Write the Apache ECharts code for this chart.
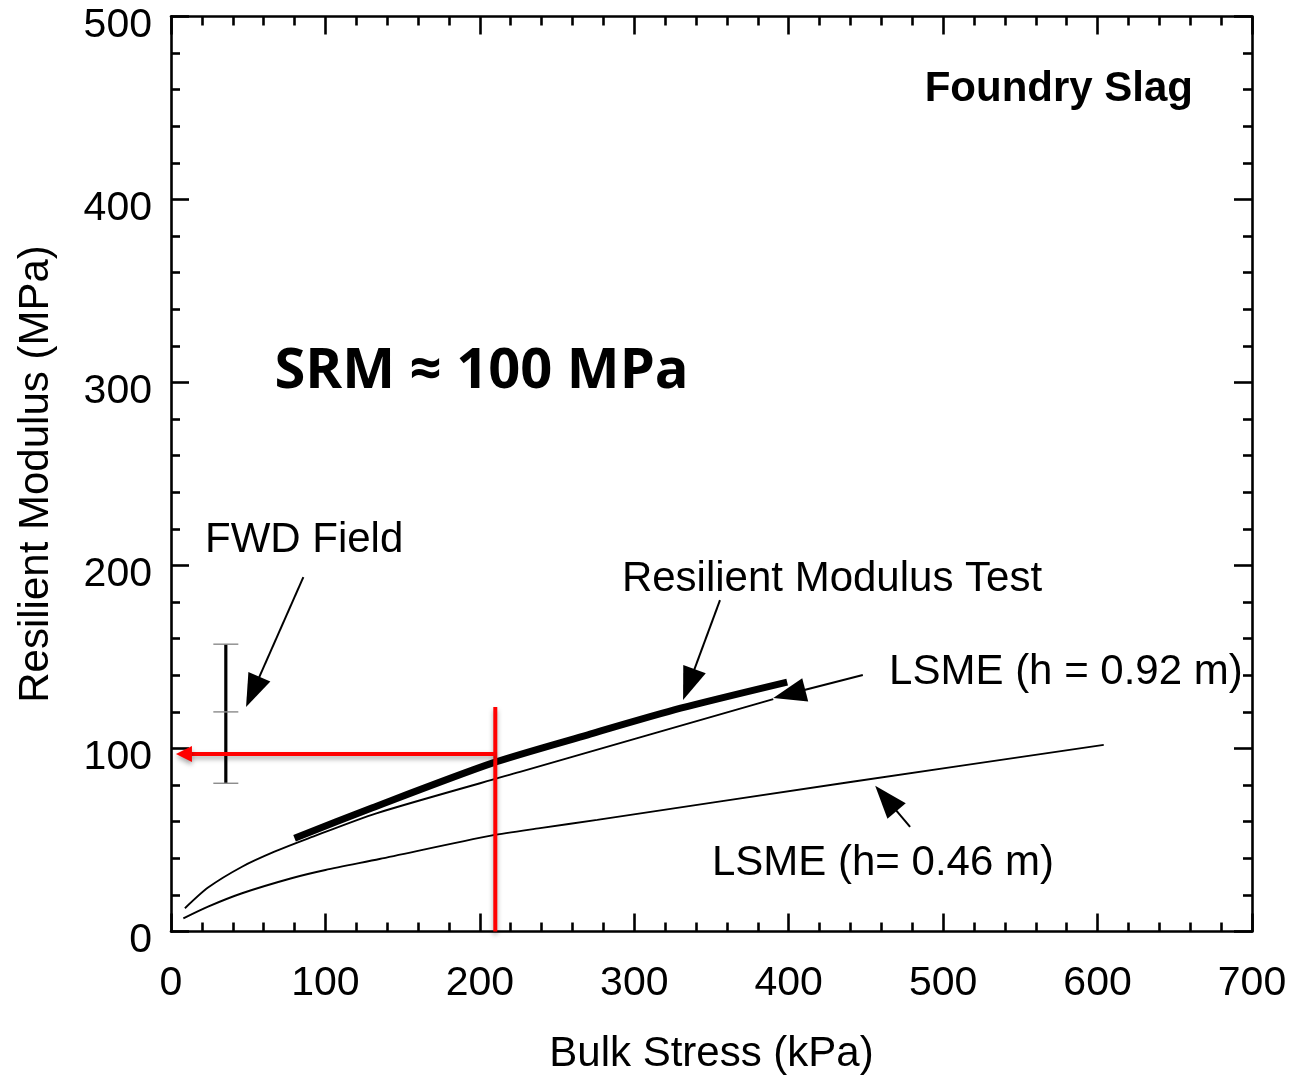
<!DOCTYPE html>
<html>
<head>
<meta charset="utf-8">
<title>Foundry Slag – Resilient Modulus vs Bulk Stress</title>
<script src="https://cdn.jsdelivr.net/npm/echarts@6/dist/echarts.min.js"></script>
<style>
  html, body { margin: 0; padding: 0; background: #ffffff; }
  #chart { width: 1290px; height: 1075px; }
</style>
</head>
<body>
<div id="chart"></div>
<script>
// Axis ticks (kPa, MPa)
const xTickValues = [0, 100, 200, 300, 400, 500, 600, 700];
const yTickValues = [0, 100, 200, 300, 400, 500];

// Curves: [bulk stress kPa, resilient modulus MPa]
const lsme092 = [[9, 12.7], [24, 24], [46, 35.4], [67, 43.6], [89, 50.9],
                 [133, 64.6], [226, 87.2], [390, 127]];
const lsme046 = [[8, 7.2], [24, 13.6], [46, 20.9], [78, 29.1], [100, 33.6], [135, 39.6],
                 [208, 52.5], [239, 56.5], [276, 61], [440, 81.7], [604, 102]];
const mrTest = [[80, 51], [130, 67.5], [208, 92], [270, 107.5], [330, 122], [399, 136.3]];

// FWD field range at its bulk stress (low / mean / high, MPa)
const fwdStress = 35.5;
const fwdRange = [81, 120, 157];

// Summary resilient modulus read-off
const srmStress = 210;
const srmModulus = 97;
const srmGuideTop = 122.7;

// Callout texts and their anchor points [kPa, MPa]
const calloutTexts = ['FWD Field', 'Resilient Modulus Test', 'LSME (h = 0.92 m)', 'LSME (h= 0.46 m)'];
const calloutAnchors = [[22, 213.5], [292, 192.5], [465, 141.5], [350.3, 37.4]];
// Leader arrows: tail -> tip
const calloutTails = [[85.7, 193.6], [355.5, 181.1], [448, 140.2], [478.6, 57.2]];
const calloutTips = [[48.6, 122.7], [331.6, 126.5], [390, 127.6], [456, 79.6]];

const titleText = 'Foundry Slag';
const titleAnchor = [661.8, 460.4];
const srmText = 'SRM \u2248 100 MPa';
const srmAnchor = [201.1, 305.7];

const FONT = '"Liberation Sans", Arial, sans-serif';
const TXT = 42;

const chart = echarts.init(document.getElementById('chart'), null, { renderer: 'canvas' });

function arrowParts(tail, tip, len, wid, color, lw, extra) {
  const dx = tip[0] - tail[0], dy = tip[1] - tail[1];
  const d = Math.sqrt(dx * dx + dy * dy) || 1;
  const ux = dx / d, uy = dy / d;
  const bx = tip[0] - ux * len, by = tip[1] - uy * len;
  const px = -uy * wid / 2, py = ux * wid / 2;
  const st = Object.assign({ stroke: color, lineWidth: lw }, extra || {});
  const fs = Object.assign({ fill: color }, extra || {});
  return [
    { type: 'line', shape: { x1: tail[0], y1: tail[1], x2: bx + ux * 2, y2: by + uy * 2 }, style: st },
    { type: 'polygon', shape: { points: [tip, [bx + px, by + py], [bx - px, by - py]] }, style: fs }
  ];
}

function renderAnnotations(params, api) {
  const children = [];

  // FWD field range bar
  const fLow = api.coord([fwdStress, fwdRange[0]]);
  const fMid = api.coord([fwdStress, fwdRange[1]]);
  const fHigh = api.coord([fwdStress, fwdRange[2]]);
  children.push({ type: 'line', shape: { x1: fLow[0], y1: fLow[1], x2: fHigh[0], y2: fHigh[1] },
                  style: { stroke: '#000', lineWidth: 3.2 } });
  [fLow, fMid, fHigh].forEach(p => {
    children.push({ type: 'line', shape: { x1: p[0] - 12.5, y1: p[1], x2: p[0] + 12.5, y2: p[1] },
                    style: { stroke: '#8a8a8a', lineWidth: 1.4 } });
  });

  // Red read-off guides
  const shadow = { shadowBlur: 5, shadowColor: 'rgba(0,0,0,0.35)', shadowOffsetY: 3 };
  const vBot = api.coord([srmStress, 0]);
  const vTop = api.coord([srmStress, srmGuideTop]);
  children.push({ type: 'line', shape: { x1: vBot[0], y1: vBot[1], x2: vTop[0], y2: vTop[1] },
                  style: Object.assign({ stroke: '#ff0000', lineWidth: 4 }, shadow) });
  const hStart = api.coord([srmStress, srmModulus]);
  const hTip = api.coord([3.2, srmModulus]);
  arrowParts(hStart, hTip, 16, 16, '#ff0000', 4, shadow).forEach(c => children.push(c));

  // Callout leaders and texts
  for (let i = 0; i < calloutTexts.length; i++) {
    const tail = api.coord(calloutTails[i]);
    const tip = api.coord(calloutTips[i]);
    arrowParts(tail, tip, 33, 24, '#000', 2).forEach(c => children.push(c));
    const a = api.coord(calloutAnchors[i]);
    children.push({ type: 'text', style: { x: a[0], y: a[1], text: calloutTexts[i],
      fill: '#000', fontSize: TXT, fontFamily: FONT, align: 'left', verticalAlign: 'middle' } });
  }

  const t = api.coord(titleAnchor);
  children.push({ type: 'text', style: { x: t[0], y: t[1], text: titleText, fill: '#000',
    fontSize: TXT, fontWeight: 'bold', fontFamily: FONT, align: 'right', verticalAlign: 'middle' } });

  const s = api.coord(srmAnchor);
  children.push({ type: 'text', style: { x: s[0], y: s[1], text: srmText, fill: '#000',
    fontSize: 56, fontWeight: 'bold', fontFamily: '"Open Sans", Lato, sans-serif',
    align: 'center', verticalAlign: 'middle' } });

  return { type: 'group', children: children };
}

const axisCommon = {
  axisLine: { show: true, onZero: false, lineStyle: { color: '#000', width: 2.6 } },
  axisTick: { show: true, inside: true, length: 18, lineStyle: { color: '#000', width: 2.6 } },
  minorTick: { show: true, splitNumber: 5, length: 9, lineStyle: { color: '#000', width: 2.6 } },
  splitLine: { show: false },
  minorSplitLine: { show: false }
};

const xRange = { min: xTickValues[0], max: xTickValues[xTickValues.length - 1],
                 interval: xTickValues[1] - xTickValues[0] };
const yRange = { min: yTickValues[0], max: yTickValues[yTickValues.length - 1],
                 interval: yTickValues[1] - yTickValues[0] };

const option = {
  animation: false,
  backgroundColor: '#ffffff',
  grid: { left: 171, right: 38, top: 16.5, bottom: 143.5, containLabel: false, outerBoundsMode: 'none' },
  xAxis: [
    Object.assign({}, axisCommon, xRange, {
      type: 'value', position: 'bottom',
      name: 'Bulk Stress (kPa)', nameLocation: 'middle', nameGap: 102,
      nameTextStyle: { fontSize: TXT, fontFamily: FONT, color: '#000' },
      axisLabel: { fontSize: 41, fontFamily: FONT, color: '#000', margin: 32 }
    }),
    Object.assign({}, axisCommon, xRange, {
      type: 'value', position: 'top', axisLabel: { show: false }
    })
  ],
  yAxis: [
    Object.assign({}, axisCommon, yRange, {
      type: 'value', position: 'left',
      name: 'Resilient Modulus (MPa)', nameLocation: 'middle', nameGap: 114,
      nameTextStyle: { fontSize: TXT, fontFamily: FONT, color: '#000' },
      axisLabel: { fontSize: 41, fontFamily: FONT, color: '#000', margin: 19,
                   verticalAlign: 'top', lineHeight: 18 }
    }),
    Object.assign({}, axisCommon, yRange, {
      type: 'value', position: 'right', axisLabel: { show: false }
    })
  ],
  series: [
    {
      name: 'LSME (h = 0.46 m)', type: 'line', data: lsme046, showSymbol: false,
      smooth: 0.25, xAxisIndex: 0, yAxisIndex: 0,
      lineStyle: { color: '#000', width: 1.9 }
    },
    {
      name: 'LSME (h = 0.92 m)', type: 'line', data: lsme092, showSymbol: false,
      smooth: 0.25, xAxisIndex: 0, yAxisIndex: 0,
      lineStyle: { color: '#000', width: 1.9 }
    },
    {
      name: 'Resilient Modulus Test', type: 'line', data: mrTest, showSymbol: false,
      smooth: 0.25, xAxisIndex: 0, yAxisIndex: 0,
      lineStyle: { color: '#000', width: 7, cap: 'butt' }
    },
    {
      name: 'annotations', type: 'custom', coordinateSystem: 'cartesian2d',
      xAxisIndex: 0, yAxisIndex: 0, clip: false, silent: true,
      data: [[0, 0]], renderItem: renderAnnotations, z: 5
    }
  ]
};

chart.setOption(option);
</script>
</body>
</html>
